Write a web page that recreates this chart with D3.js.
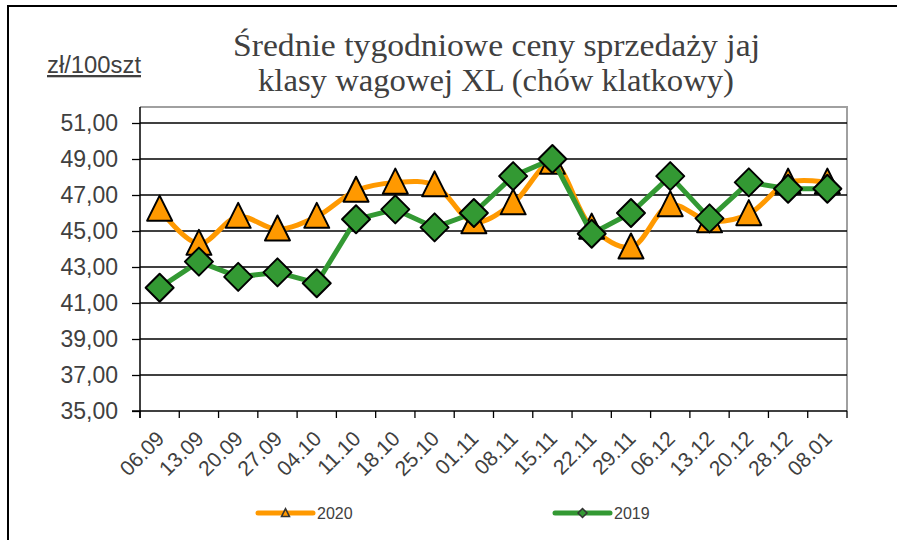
<!DOCTYPE html>
<html><head><meta charset="utf-8">
<script src="https://cdn.jsdelivr.net/npm/d3@7"></script>
<style>body{margin:0;background:#fff}svg{display:block}</style>
</head><body>
<svg id="chart" width="897" height="540"></svg>
<script>
const categories = ["06.09","13.09","20.09","27.09","04.10","11.10","18.10","25.10","01.11","08.11","15.11","22.11","29.11","06.12","13.12","20.12","28.12","08.01"];
const values2020 = [46.2,44.3,45.8,45.1,45.8,47.25,47.7,47.55,45.5,46.55,48.8,45.2,44.1,46.45,45.55,45.95,47.7,47.7];
const values2019 = [41.85,43.3,42.45,42.7,42.1,45.65,46.2,45.2,46.0,48.05,49.0,44.85,46.0,48.05,45.7,47.7,47.35,47.35];
const yTicks = [35,37,39,41,43,45,47,49,51];
const seriesNames = ["2020","2019"];
const titleLines = ["Średnie tygodniowe ceny sprzedaży jaj","klasy wagowej XL (chów klatkowy)"];
const unitLabel = "zł/100szt";

const svg = d3.select("#chart");
const left = 140, right = 847, plotTop = 107;
const x = d3.scaleBand().domain(categories).range([left, right]).padding(0);
const y = d3.scaleLinear().domain([35, 51]).range([411, 123]);
const cx = d => x(d) + x.bandwidth() / 2;
const orange = "#ff9900", green = "#339933";
const textCol = "#404040";
const sans = "'Liberation Sans', Arial, sans-serif";

// outer border
svg.append("rect").attr("x", 8).attr("y", 6).attr("width", 1000).attr("height", 1000)
  .attr("fill", "#fff").attr("stroke", "#000").attr("stroke-width", 2);

// title
const titleLayout = [{x: 233, len: 527, y: 56}, {x: 258, len: 476, y: 91}];
svg.append("g").selectAll("text").data(titleLines).join("text")
  .attr("x", (d, i) => titleLayout[i].x).attr("y", (d, i) => titleLayout[i].y)
  .attr("textLength", (d, i) => titleLayout[i].len).attr("lengthAdjust", "spacingAndGlyphs")
  .attr("font-family", "'Liberation Serif', 'DejaVu Serif', serif")
  .attr("font-size", 31).attr("fill", textCol)
  .text(d => d);

// unit label
svg.append("text").attr("x", 47).attr("y", 73)
  .attr("font-family", sans).attr("font-size", 23).attr("fill", textCol)
  .attr("textLength", 94).attr("lengthAdjust", "spacingAndGlyphs")
  .attr("text-decoration", "underline").text(unitLabel);

// plot area border (gray top/right)
svg.append("path")
  .attr("d", `M${left},${plotTop}H${right}V${y(35)}`)
  .attr("fill", "none").attr("stroke", "#a0a0a0").attr("stroke-width", 2);

// gridlines
svg.append("g").selectAll("line").data(yTicks.filter(t => t > 35)).join("line")
  .attr("x1", left).attr("x2", right)
  .attr("y1", d => y(d)).attr("y2", d => y(d))
  .attr("stroke", "#000").attr("stroke-width", 1.3);

// y axis
const yAxis = d3.axisLeft(y).tickValues(yTicks).tickSize(8).tickSizeOuter(0)
  .tickFormat(d => d3.format(".2f")(d).replace(".", ","));
const gy = svg.append("g").attr("transform", `translate(${left},0)`).call(yAxis);
gy.select(".domain").remove();
gy.append("line").attr("x1", 0).attr("x2", 0).attr("y1", plotTop).attr("y2", y(35) + 7)
  .attr("stroke", "#000").attr("stroke-width", 1.5);
gy.selectAll(".tick line").attr("stroke", "#000").attr("stroke-width", 1.3);
gy.selectAll(".tick text").attr("x", -22).attr("font-family", sans).attr("font-size", 23)
  .attr("fill", textCol);

// x axis with ticks at category boundaries
const boundaries = d3.range(categories.length + 1).map(i => left + i * x.bandwidth());
svg.append("line").attr("x1", left - 8).attr("x2", right).attr("y1", y(35)).attr("y2", y(35))
  .attr("stroke", "#000").attr("stroke-width", 1.5);
svg.append("g").selectAll("line").data(boundaries).join("line")
  .attr("x1", d => d).attr("x2", d => d).attr("y1", y(35)).attr("y2", y(35) + 7)
  .attr("stroke", "#000").attr("stroke-width", 1.3);
svg.append("g").selectAll("text").data(categories).join("text")
  .attr("transform", d => `translate(${cx(d) + 6},${440}) rotate(-45)`)
  .attr("text-anchor", "end")
  .attr("font-family", sans).attr("font-size", 21).attr("fill", textCol)
  .text(d => d);

// series
const line2020 = d3.line().x((d, i) => cx(categories[i])).y(d => y(d)).curve(d3.curveCatmullRom.alpha(0.5));
const line2019 = d3.line().x((d, i) => cx(categories[i])).y(d => y(d));

const tri = (s) => `M0,${-s*0.55}L${s/2},${s*0.45}L${-s/2},${s*0.45}Z`;
const dia = (s) => `M0,${-s/2}L${s/2},0L0,${s/2}L${-s/2},0Z`;

svg.append("path").datum(values2020).attr("d", line2020)
  .attr("fill", "none").attr("stroke", orange).attr("stroke-width", 5).attr("stroke-linejoin", "round");
svg.append("g").selectAll("path").data(values2020).join("path")
  .attr("transform", (d, i) => `translate(${cx(categories[i])},${y(d)})`)
  .attr("d", tri(25)).attr("fill", orange).attr("stroke", "#000").attr("stroke-width", 2).attr("stroke-linejoin", "round");

svg.append("path").datum(values2019).attr("d", line2019)
  .attr("fill", "none").attr("stroke", green).attr("stroke-width", 5).attr("stroke-linejoin", "round");
svg.append("g").selectAll("path").data(values2019).join("path")
  .attr("transform", (d, i) => `translate(${cx(categories[i])},${y(d)})`)
  .attr("d", dia(28)).attr("fill", green).attr("stroke", "#000").attr("stroke-width", 2).attr("stroke-linejoin", "round");

// legend
const legend = [
  {name: seriesNames[0], color: orange, x1: 258, x2: 313, shape: tri(8)},
  {name: seriesNames[1], color: green, x1: 555, x2: 610, shape: dia(9)}
];
const lg = svg.append("g").selectAll("g").data(legend).join("g");
lg.append("line").attr("x1", d => d.x1).attr("x2", d => d.x2).attr("y1", 513).attr("y2", 513)
  .attr("stroke", d => d.color).attr("stroke-width", 5).attr("stroke-linecap", "round");
lg.append("path").attr("transform", d => `translate(${(d.x1 + d.x2) / 2},513)`)
  .attr("d", d => d.shape).attr("fill", d => d.color).attr("stroke", "#333").attr("stroke-width", 1.5);
lg.append("text").attr("x", d => d.x2 + 4).attr("y", 519)
  .attr("font-family", sans).attr("font-size", 16).attr("fill", textCol).text(d => d.name);
</script>
</body></html>
